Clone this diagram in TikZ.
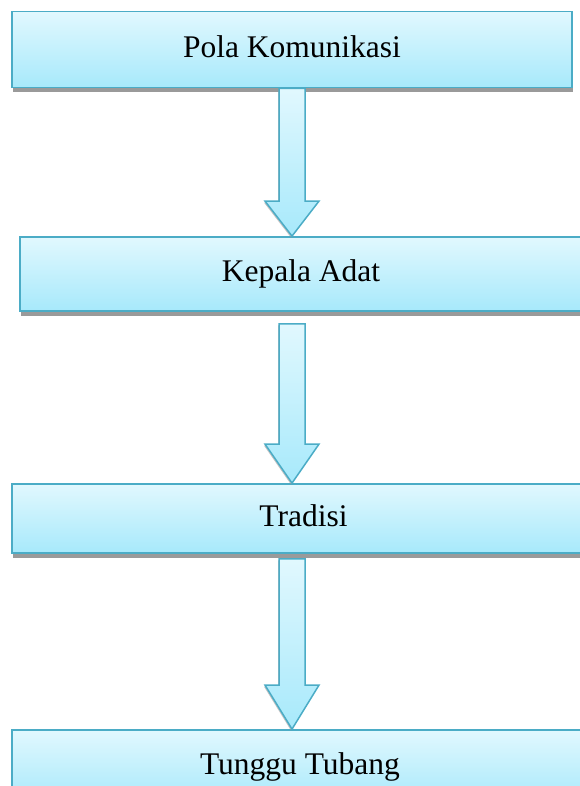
\documentclass[tikz,border=0pt]{standalone}
\usepackage{fontspec}
\setmainfont{Liberation Serif}
\usetikzlibrary{calc,shadows}
\definecolor{rand}{HTML}{4BACC6}
\definecolor{hellblau}{HTML}{E1F8FE}
\definecolor{tiefblau}{HTML}{A7E9FB}
\definecolor{schatten}{HTML}{9A9A9A}
\newcommand\kastenf{\fontsize{31.5}{38}\selectfont}
% #1 oberer Kasten, #2 unterer Kasten, #3 Abstand unter #1, #4 Länge der Spitze
\newcommand\pfeil[4]{\path[blockpfeil] let \p1=([yshift=-#3]#1.south -| pola.south),
  \p2=(#2.north -| pola.south) in
  (\x1-13pt,\y1) -- (\x1+13pt,\y1) -- (\x1+13pt,\y2+#4) -- (\x1+27pt,\y2+#4)
  -- (\x1,\y2) -- (\x1-27pt,\y2+#4) -- (\x1-13pt,\y2+#4) -- cycle;}

\begin{document}
\begin{tikzpicture}[x=1pt,y=-1pt]
\useasboundingbox (0,0) rectangle (579,786);
\tikzset{kasten/.style={draw=rand,line width=1.8pt,top color=hellblau,bottom color=tiefblau,
    font=\kastenf,text height=22pt,text depth=6.3pt,inner sep=0,
    general shadow={fill=schatten,shadow yshift=-5pt,shadow xshift=0.5pt}},
  blockpfeil/.style={draw=rand,line width=1.5pt,line join=miter,
    top color=hellblau,bottom color=tiefblau,
    general shadow={fill=schatten,opacity=0.6,shadow yshift=-1.5pt,shadow xshift=-1pt}}}

% ---- Kästen (rechts teils über den Rand hinaus, wie im Original)
\node[kasten,minimum width=560pt,minimum height=76pt] (pola) at (292,49.5) {Pola Komunikasi};
\node[kasten,minimum width=562pt,minimum height=74pt] (kepala) at (301,274) {Kepala Adat};
\node[kasten,minimum width=583pt,minimum height=69pt] (tradisi) at (303.5,518.5) {Tradisi};
\node[kasten,minimum width=576pt,minimum height=74pt] (tunggu) at (300,767) {Tunggu Tubang};

% ---- Blockpfeile, alle auf der Achse des obersten Kastens
\pfeil{pola}{kepala}{0pt}{35pt}
\pfeil{kepala}{tradisi}{12pt}{39pt}
\pfeil{tradisi}{tunggu}{5pt}{44pt}
\end{tikzpicture}
\end{document}
